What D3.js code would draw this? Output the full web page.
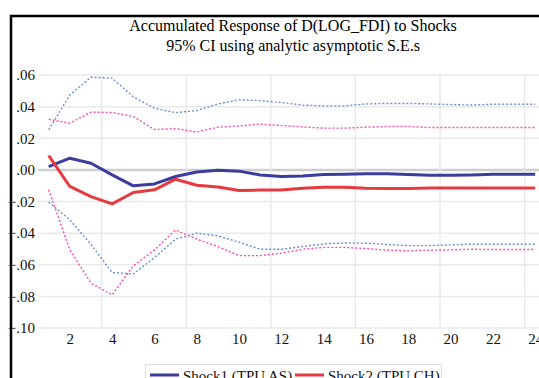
<!DOCTYPE html>
<html>
<head>
<meta charset="utf-8">
<script src="https://cdn.jsdelivr.net/npm/d3@7"></script>
<style>
  body { margin: 0; background: #fff; }
  text { font-family: "Liberation Serif", "DejaVu Serif", serif; }
</style>
</head>
<body>
<svg id="chart"></svg>
<script>
// data
const periods = d3.range(1, 25)
const shock1 = [0.0021, 0.0074, 0.0042, -0.0032, -0.0101, -0.0089, -0.0042, -0.0013, -0.0002, -0.0008, -0.0032, -0.0042,
    -0.0038, -0.0030, -0.0028, -0.0025, -0.0025, -0.0030, -0.0034, -0.0034, -0.0032, -0.0028, -0.0028, -0.0028]
const shock2 = [0.0090, -0.0105, -0.0169, -0.0215, -0.0143, -0.0126, -0.0059, -0.0097, -0.0108, -0.0131, -0.0128, -0.0128,
    -0.0116, -0.0110, -0.0110, -0.0116, -0.0118, -0.0118, -0.0114, -0.0114, -0.0114, -0.0114, -0.0114, -0.0114]
const shock1_up = [0.0253, 0.0474, 0.0586, 0.0580, 0.0462, 0.0390, 0.0362, 0.0375, 0.0417, 0.0443, 0.0438, 0.0426,
    0.0410, 0.0405, 0.0405, 0.0417, 0.0420, 0.0420, 0.0417, 0.0413, 0.0410, 0.0415, 0.0415, 0.0415]
const shock1_lo = [-0.0204, -0.0316, -0.0472, -0.0650, -0.0658, -0.0555, -0.0438, -0.0400, -0.0417, -0.0457, -0.0502, -0.0502,
    -0.0485, -0.0468, -0.0462, -0.0464, -0.0472, -0.0479, -0.0479, -0.0474, -0.0470, -0.0470, -0.0470, -0.0470]
const shock2_up = [0.0320, 0.0295, 0.0365, 0.0363, 0.0337, 0.0255, 0.0261, 0.0240, 0.0270, 0.0278, 0.0289, 0.0280,
    0.0272, 0.0264, 0.0264, 0.0270, 0.0274, 0.0274, 0.0268, 0.0268, 0.0268, 0.0268, 0.0268, 0.0268]
const shock2_lo = [-0.0126, -0.0506, -0.0717, -0.0790, -0.0607, -0.0506, -0.0380, -0.0438, -0.0485, -0.0542, -0.0542, -0.0527,
    -0.0502, -0.0490, -0.0490, -0.0498, -0.0508, -0.0512, -0.0508, -0.0506, -0.0502, -0.0504, -0.0504, -0.0504]
const xticks = [2, 4, 6, 8, 10, 12, 14, 16, 18, 20, 22, 24]
const yticks = [0.06, 0.04, 0.02, 0, -0.02, -0.04, -0.06, -0.08, -0.10]
const vgrid = [3.5, 7.5, 11.5, 15.5, 19.5, 23.5]
const legendNames = ["Shock1 (TPU AS)", "Shock2 (TPU CH)"]

// sizes
const width = 539
const height = 378
const plot = { left: 38, right: 539, top: 75, bottom: 328 }
const serif = '"Liberation Serif", "DejaVu Serif", serif'

const svg = d3.select('svg#chart').attr('width', width).attr('height', height)

// frame
svg.append("path")
    .attr("d", "M11,378 V16 H539")
    .attr("fill", "none")
    .attr("stroke", "#000")
    .attr("stroke-width", 2.5)

svg.append("text")
    .attr("x", 293).attr("y", 31)
    .attr("text-anchor", "middle")
    .attr("font-family", serif)
    .style("font-size", "16px")
    .text("Accumulated Response of D(LOG_FDI) to Shocks")
svg.append("text")
    .attr("x", 293).attr("y", 51)
    .attr("text-anchor", "middle")
    .attr("font-family", serif)
    .style("font-size", "16px")
    .text("95% CI using analytic asymptotic S.E.s")

var x = d3.scaleLinear().domain([1, 24]).range([48.7, 535.2])
var y = d3.scaleLinear().domain([-0.10, 0.06]).range([plot.bottom, plot.top])

// grid
svg.append("g").selectAll("line")
    .data(yticks)
    .enter().append("line")
    .attr("x1", plot.left).attr("x2", plot.right)
    .attr("y1", d => y(d)).attr("y2", d => y(d))
    .attr("stroke", d => d == 0 ? "#cfcfcf" : "#e9e9e9")
    .attr("stroke-width", d => d == 0 ? 2.5 : 1.5)

svg.append("g").selectAll("line")
    .data(vgrid)
    .enter().append("line")
    .attr("x1", d => x(d)).attr("x2", d => x(d))
    .attr("y1", plot.top).attr("y2", plot.bottom)
    .attr("stroke", "#e9e9e9")
    .attr("stroke-width", 1.5)

// axes (labels only)
var fmt = d => d3.format(".2f")(d).replace("0.", ".")
var yAxis = svg.append("g")
    .attr("transform", "translate(35,0)")
    .attr("font-family", serif)
    .call(d3.axisLeft(y).tickValues(yticks).tickSize(0).tickPadding(0).tickFormat(fmt))
yAxis.attr("font-family", serif)
yAxis.select(".domain").remove()
yAxis.selectAll("text").attr("font-family", serif).style("font-size", "15px").attr("fill", "#111")

var xAxis = svg.append("g")
    .attr("transform", "translate(0," + 333 + ")")
    .call(d3.axisBottom(x).tickValues(xticks).tickSize(0).tickPadding(0))
xAxis.attr("font-family", serif)
xAxis.select(".domain").remove()
xAxis.selectAll("text").attr("font-family", serif).style("font-size", "15px").attr("fill", "#111")

// lines
var line = d3.line()
    .x((d, i) => x(periods[i]))
    .y(d => y(d))

var series = [
    { vals: shock1_up, color: "#6b8fd0", w: 1.4, dash: "2,2" },
    { vals: shock1_lo, color: "#6b8fd0", w: 1.4, dash: "2,2" },
    { vals: shock2_up, color: "#ff4aa6", w: 1.4, dash: "2,2" },
    { vals: shock2_lo, color: "#ff4aa6", w: 1.4, dash: "2,2" },
    { vals: shock1, color: "#3c3c9e", w: 3, dash: null },
    { vals: shock2, color: "#e53a40", w: 3, dash: null },
]

svg.append("g").selectAll("path")
    .data(series)
    .enter().append("path")
    .attr("d", d => line(d.vals))
    .attr("fill", "none")
    .attr("stroke", d => d.color)
    .attr("stroke-width", d => d.w)
    .attr("stroke-linejoin", "round")
    .attr("stroke-dasharray", d => d.dash)

// legend
var lg = svg.append("g")
lg.append("rect")
    .attr("x", 145.5).attr("y", 364.5)
    .attr("width", 296).attr("height", 30)
    .attr("fill", "#fff")
    .attr("stroke", "#dcdcdc")
var legendColors = ["#3c3c9e", "#e53a40"]
var legendX = [150, 295]
lg.selectAll("line")
    .data(legendNames)
    .enter().append("line")
    .attr("x1", (d, i) => legendX[i]).attr("x2", (d, i) => legendX[i] + 29)
    .attr("y1", 375).attr("y2", 375)
    .attr("stroke", (d, i) => legendColors[i])
    .attr("stroke-width", 3)
lg.selectAll("text")
    .data(legendNames)
    .enter().append("text")
    .attr("x", (d, i) => legendX[i] + 33)
    .attr("y", 381)
    .attr("font-family", serif)
    .style("font-size", "15px")
    .attr("fill", "#111")
    .text(d => d)
</script>
</body>
</html>
